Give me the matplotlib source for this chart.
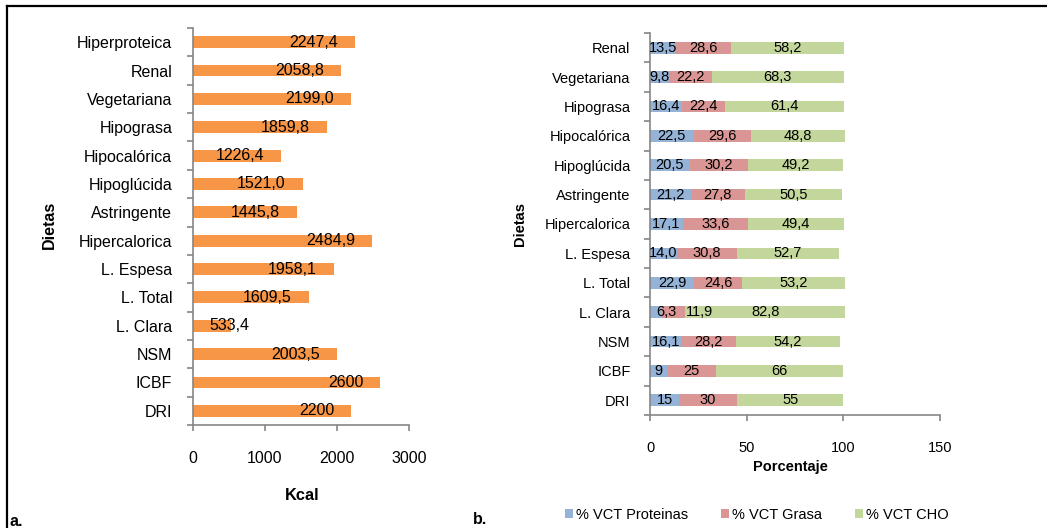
import numpy as np
import matplotlib
matplotlib.use("Agg")
import matplotlib.pyplot as plt
from matplotlib.lines import Line2D
from matplotlib.patches import Patch

plt.rcParams["font.family"] = ["Liberation Sans", "DejaVu Sans"]
plt.rcParams["font.size"] = 10.5

# --- panel a: energy per diet (Kcal), top to bottom ---
dietas_kcal = ["Hiperproteica", "Renal", "Vegetariana", "Hipograsa", "Hipocalórica",
               "Hipoglúcida", "Astringente", "Hipercalorica", "L. Espesa", "L. Total",
               "L. Clara", "NSM", "ICBF", "DRI"]
kcal = [2247.4, 2058.8, 2199.0, 1859.8, 1226.4, 1521.0, 1445.8, 2484.9,
        1958.1, 1609.5, 533.4, 2003.5, 2600, 2200]

# --- panel b: % of total caloric value, top to bottom ---
dietas_vct = ["Renal", "Vegetariana", "Hipograsa", "Hipocalórica", "Hipoglúcida",
              "Astringente", "Hipercalorica", "L. Espesa", "L. Total", "L. Clara",
              "NSM", "ICBF", "DRI"]
proteinas = [13.5, 9.8, 16.4, 22.5, 20.5, 21.2, 17.1, 14.0, 22.9, 6.3, 16.1, 9, 15]
grasa = [28.6, 22.2, 22.4, 29.6, 30.2, 27.8, 33.6, 30.8, 24.6, 11.9, 28.2, 25, 30]
cho = [58.2, 68.3, 61.4, 48.8, 49.2, 50.5, 49.4, 52.7, 53.2, 82.8, 54.2, 66, 55]
series_names = ["% VCT Proteinas", "% VCT Grasa", "% VCT CHO"]

ORANGE = "#F79646"
COLORS = ["#95B3D7", "#D99694", "#C3D69B"]
AXIS_GRAY = "#868686"
FS_A = 11.5
FS_B = 10.5

W, H = 1047, 528

# labels on narrow segments are nudged sideways (pixels) so they don't collide
nudge_b = {("L. Clara", 0): 10, ("L. Clara", 1): 26}


def fmt(v):
    # comma as decimal separator; whole numbers stay without decimals
    if isinstance(v, int):
        return str(v)
    return f"{v:.1f}".replace(".", ",")


def style_axis(ax, n, xpad, ypad, fs):
    for s in ["top", "right"]:
        ax.spines[s].set_visible(False)
    for s in ["left", "bottom"]:
        ax.spines[s].set_color(AXIS_GRAY)
        ax.spines[s].set_linewidth(1.2)
    ax.set_ylim(n - 0.5, -0.5)
    ax.set_yticks(np.arange(n + 1) - 0.5, minor=True)
    ax.tick_params(axis="y", which="major", length=0, pad=ypad, labelsize=fs)
    ax.tick_params(axis="y", which="minor", length=4, width=1.2, color=AXIS_GRAY)
    ax.tick_params(axis="x", which="major", length=4, width=1.2, color=AXIS_GRAY,
                   pad=xpad, labelsize=fs)


fig = plt.figure(figsize=(W / 100, H / 100), dpi=100)

# ---------------- panel a ----------------
ax1 = fig.add_axes([193 / W, 1 - 425 / H, 216 / W, 397 / H])
y1 = np.arange(len(dietas_kcal))
ax1.barh(y1, kcal, height=0.42, color=ORANGE)
ax1.set_xlim(0, 3000)
ax1.set_xticks([0, 1000, 2000, 3000])
ax1.set_yticks(y1)
ax1.set_yticklabels(dietas_kcal)
style_axis(ax1, len(dietas_kcal), xpad=15, ypad=15, fs=FS_A)

for yi, v in zip(y1, kcal):
    if v < 1000:
        ax1.annotate(fmt(v), (v, yi), xytext=(-2, 0), textcoords="offset pixels",
                     ha="center", va="center", fontsize=FS_A)
    else:
        ax1.annotate(fmt(v), (v, yi), xytext=(-17, 0), textcoords="offset pixels",
                     ha="right", va="center", fontsize=FS_A)

# ---------------- panel b ----------------
ax2 = fig.add_axes([650 / W, 1 - 415 / H, 290 / W, 382 / H])
y2 = np.arange(len(dietas_vct))
left = np.zeros(len(dietas_vct))
for k, (vals, col) in enumerate(zip([proteinas, grasa, cho], COLORS)):
    ax2.barh(y2, vals, left=left, height=0.4, color=col)
    for name, yi, l, v in zip(dietas_vct, y2, left, vals):
        dx = nudge_b.get((name, k), 0)
        ax2.annotate(fmt(v), (l + v / 2, yi), xytext=(dx, 0), textcoords="offset pixels",
                     ha="center", va="center", fontsize=FS_B)
    left = left + np.array(vals, dtype=float)

ax2.set_xlim(0, 150)
ax2.set_xticks([0, 50, 100, 150])
ax2.set_yticks(y2)
ax2.set_yticklabels(dietas_vct)
style_axis(ax2, len(dietas_vct), xpad=15, ypad=14, fs=FS_B)

# axis titles and panel tags
fig.text(49 / W, 1 - 225 / H, "Dietas", rotation=90, ha="center", va="center",
         fontweight="bold", fontsize=FS_A)
fig.text(520 / W, 1 - 224 / H, "Dietas", rotation=90, ha="center", va="center",
         fontweight="bold", fontsize=FS_B)
fig.text(302 / W, 1 - 495 / H, "Kcal", ha="center", va="center", fontweight="bold",
         fontsize=FS_A + 0.3)
fig.text(790 / W, 1 - 467 / H, "Porcentaje", ha="center", va="center",
         fontweight="bold", fontsize=FS_B)
fig.text(10 / W, 1 - 521 / H, "a.", ha="left", va="center", fontweight="bold", fontsize=11.5)
fig.text(473 / W, 1 - 520 / H, "b.", ha="left", va="center", fontweight="bold", fontsize=11.5)

handles = [Patch(facecolor=c, edgecolor="none") for c in COLORS]
fig.legend(handles, series_names, loc="center", bbox_to_anchor=(757 / W, 1 - 515 / H),
           ncol=3, frameon=False, handlelength=0.55, handleheight=0.55,
           handletextpad=0.2, columnspacing=2.25, borderpad=0, fontsize=10.5)

# frame lines around the figure
fig.add_artist(Line2D([7 / W, 1], [1 - 6 / H, 1 - 6 / H], color="black", lw=1.6,
                      transform=fig.transFigure))
fig.add_artist(Line2D([7 / W, 7 / W], [0, 1 - 6 / H], color="black", lw=1.6,
                      transform=fig.transFigure))

fig.savefig("out.png", dpi=100)
